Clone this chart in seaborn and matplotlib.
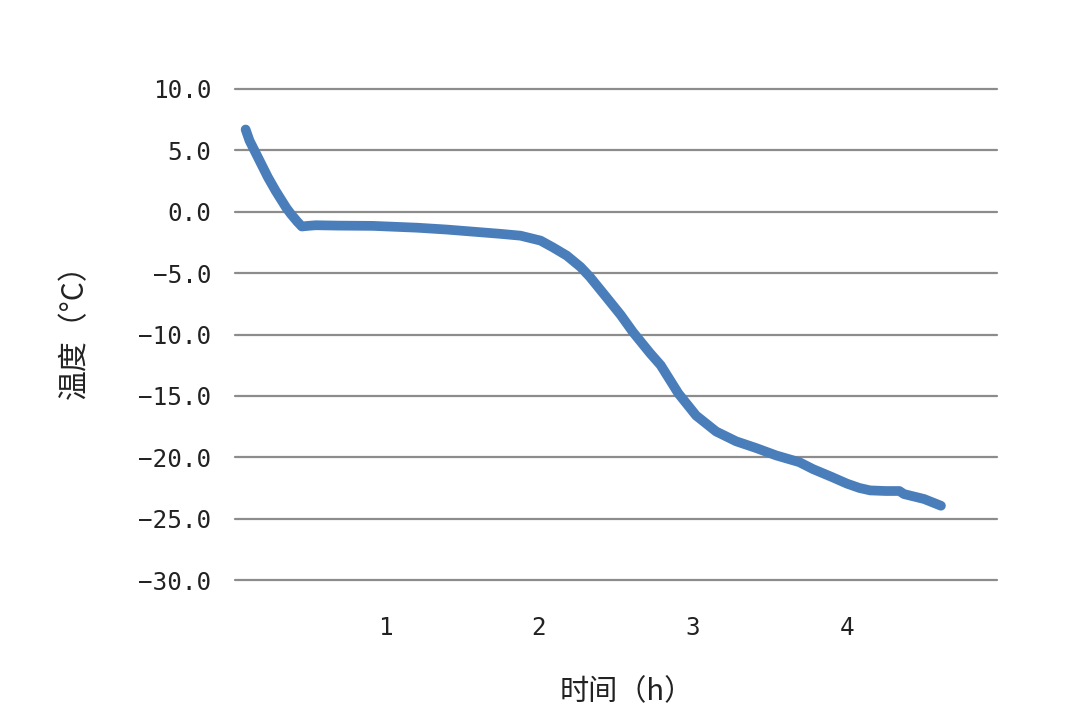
import matplotlib
matplotlib.use('Agg')
import matplotlib.pyplot as plt
import seaborn as sns
import pandas as pd

# time (h) and temperature (°C)
hours = [0.095, 0.12, 0.156, 0.20, 0.24, 0.29, 0.33, 0.36, 0.39, 0.43, 0.46, 0.50,
         0.55, 0.70, 0.92, 1.21, 1.40, 1.55, 1.75, 1.88, 2.01, 2.09, 2.18, 2.27,
         2.33, 2.44, 2.53, 2.61, 2.72, 2.79, 2.905, 3.02, 3.15, 3.28, 3.41,
         3.54, 3.69, 3.78, 3.90, 4.00, 4.08, 4.15, 4.25, 4.34, 4.37,
         4.50, 4.61]
temp = [6.7, 5.8, 4.9, 3.8, 2.8, 1.7, 0.9, 0.3, -0.2, -0.8, -1.2, -1.15,
        -1.1, -1.13, -1.15, -1.3, -1.45, -1.6, -1.8, -1.95, -2.35, -2.9, -3.57, -4.5,
        -5.3, -7.0, -8.4, -9.8, -11.5, -12.5, -14.8, -16.6, -17.9, -18.7, -19.25,
        -19.85, -20.4, -20.97, -21.6, -22.15, -22.5, -22.7, -22.75, -22.75, -23.0,
        -23.4, -23.95]

y_ticks = [10, 5, 0, -5, -10, -15, -20, -25, -30]
y_ticklabels = ['10.0', '5.0', '0.0', '\u22125.0', '\u221210.0', '\u221215.0',
                '\u221220.0', '\u221225.0', '\u221230.0']
x_ticks = [1, 2, 3, 4]

df = pd.DataFrame({'time': hours, 'temp': temp})

sns.set_style('white')
plt.rcParams['font.family'] = ['Noto Sans CJK SC', 'DejaVu Sans']

fig = plt.figure(figsize=(10.8, 7.26), dpi=100)
ax = fig.add_axes([235 / 1080, 1 - 580 / 726, (997 - 235) / 1080, (580 - 89) / 726])

sns.lineplot(data=df, x='time', y='temp', ax=ax, sort=False,
             color='#4a7ebb', linewidth=7, solid_capstyle='round',
             solid_joinstyle='round')

ax.set_xlim(0.026, 4.974)
ax.set_ylim(-30, 10)
ax.set_yticks(y_ticks)
ax.set_yticklabels(y_ticklabels, family='DejaVu Sans Mono')
ax.set_xticks(x_ticks)
ax.set_xticklabels([str(t) for t in x_ticks], family='DejaVu Sans Mono')

ax.yaxis.grid(True, color='#8c8c8c', linewidth=1.6)
ax.xaxis.grid(False)
# keep top and bottom gridlines as thick as the rest
for gl in ax.get_ygridlines():
    gl.set_clip_on(False)
for s in ax.spines.values():
    s.set_visible(False)
ax.set_axisbelow(True)

ax.tick_params(axis='y', length=0, pad=17, labelsize=17.5, labelcolor='#222222')
ax.tick_params(axis='x', length=0, pad=26, labelsize=17.5, labelcolor='#222222')

ax.set_xlabel('时间（h）', fontsize=21, labelpad=27, color='#222222')
ax.set_ylabel('温度（°C）', fontsize=21.5, labelpad=35, color='#222222')
# full-width brackets leave blank space on one side, nudge labels to look centred
ax.xaxis.label.set_x(0.514)
ax.yaxis.label.set_y(0.522)

fig.savefig('out.png', dpi=100, facecolor='white')
